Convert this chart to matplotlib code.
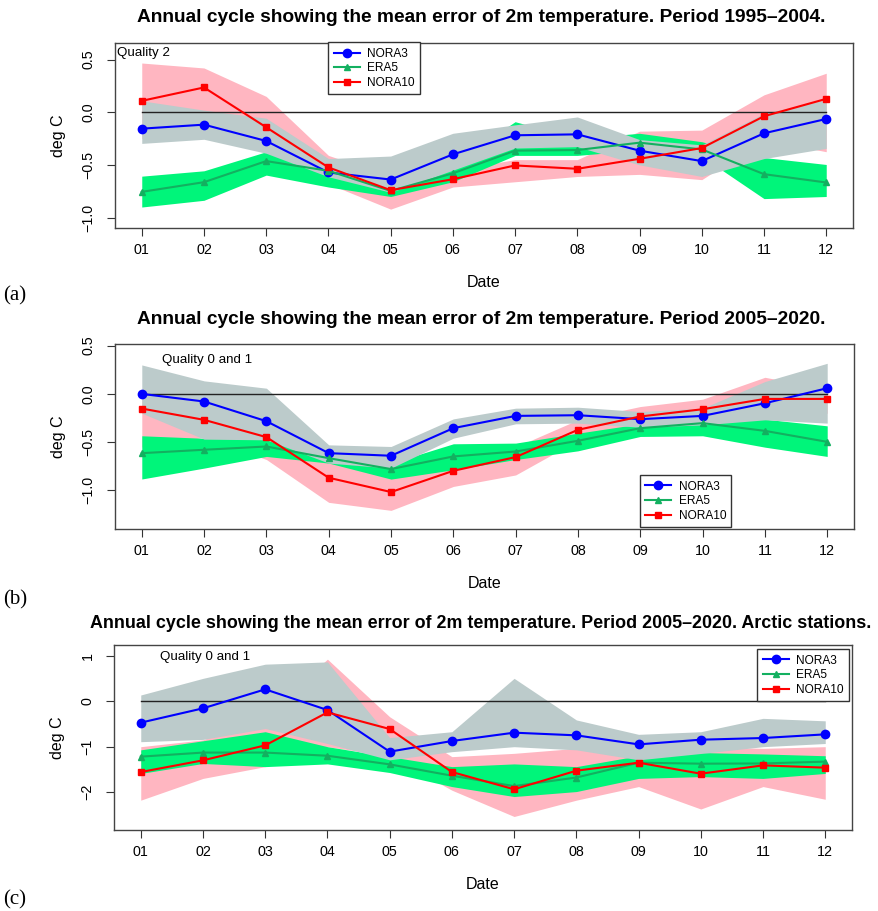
import matplotlib
matplotlib.use("Agg")
import matplotlib.pyplot as plt
import numpy as np

plt.rcParams['font.family'] = ['Liberation Sans', 'DejaVu Sans']

months = ["01", "02", "03", "04", "05", "06", "07", "08", "09", "10", "11", "12"]

# ---- panel (a): quality 2, 1995-2004
nora3_a = [-0.156, -0.118, -0.273, -0.572, -0.639, -0.40, -0.219, -0.21, -0.365, -0.464, -0.20, -0.064]
nora3_a_hi = [0.108, 0.02, -0.057, -0.44, -0.416, -0.2, -0.12, -0.045, -0.26, -0.31, -0.01, 0.118]
nora3_a_lo = [-0.296, -0.257, -0.39, -0.613, -0.76, -0.55, -0.34, -0.327, -0.50, -0.61, -0.44, -0.343]
era5_a = [-0.756, -0.664, -0.464, -0.556, -0.747, -0.58, -0.365, -0.359, -0.289, -0.353, -0.588, -0.667]
era5_a_hi = [-0.607, -0.556, -0.375, -0.55, -0.71, -0.486, -0.09, -0.25, -0.2, -0.28, -0.43, -0.496]
era5_a_lo = [-0.9, -0.836, -0.597, -0.71, -0.80, -0.66, -0.41, -0.41, -0.36, -0.42, -0.82, -0.80]
nora10_a = [0.108, 0.235, -0.143, -0.524, -0.740, -0.636, -0.505, -0.537, -0.442, -0.34, -0.038, 0.127]
nora10_a_hi = [0.467, 0.42, 0.15, -0.41, -0.61, -0.55, -0.45, -0.45, -0.18, -0.17, 0.165, 0.37]
nora10_a_lo = [-0.25, 0.0, -0.35, -0.68, -0.92, -0.71, -0.66, -0.61, -0.59, -0.64, -0.26, -0.375]

# ---- panel (b): quality 0 and 1, 2005-2020
nora3_b = [0.0, -0.079, -0.283, -0.614, -0.641, -0.355, -0.228, -0.221, -0.262, -0.228, -0.097, 0.059]
nora3_b_hi = [0.3, 0.135, 0.059, -0.528, -0.545, -0.259, -0.148, -0.138, -0.183, -0.148, 0.128, 0.317]
nora3_b_lo = [-0.2, -0.469, -0.476, -0.717, -0.769, -0.459, -0.31, -0.303, -0.345, -0.321, -0.269, -0.303]
era5_b = [-0.614, -0.579, -0.545, -0.666, -0.779, -0.648, -0.597, -0.486, -0.355, -0.303, -0.383, -0.497]
era5_b_hi = [-0.434, -0.46, -0.47, -0.607, -0.717, -0.517, -0.51, -0.407, -0.31, -0.269, -0.262, -0.331]
era5_b_lo = [-0.882, -0.769, -0.648, -0.717, -0.883, -0.786, -0.68, -0.59, -0.441, -0.434, -0.552, -0.648]
nora10_b = [-0.152, -0.269, -0.448, -0.869, -1.017, -0.797, -0.655, -0.372, -0.234, -0.159, -0.052, -0.052]
nora10_b_hi = [-0.05, -0.15, -0.3, -0.7, -0.85, -0.7, -0.55, -0.269, -0.131, -0.055, 0.172, 0.05]
nora10_b_lo = [-0.55, -0.45, -0.68, -1.124, -1.207, -0.959, -0.84, -0.48, -0.35, -0.3, -0.25, -0.2]

# ---- panel (c): quality 0 and 1, 2005-2020, arctic stations
nora3_c = [-0.47, -0.154, 0.265, -0.191, -1.11, -0.875, -0.691, -0.75, -0.949, -0.846, -0.809, -0.728]
nora3_c_hi = [0.14, 0.507, 0.82, 0.87, -0.80, -0.67, 0.507, -0.41, -0.728, -0.67, -0.375, -0.43]
nora3_c_lo = [-0.89, -0.84, -0.6, -0.93, -1.29, -1.11, -1.0, -1.07, -1.29, -1.15, -1.0, -0.93]
era5_c = [-1.22, -1.13, -1.13, -1.2, -1.39, -1.64, -1.87, -1.68, -1.353, -1.375, -1.37, -1.33]
era5_c_hi = [-1.07, -0.87, -0.67, -1.0, -1.22, -1.44, -1.38, -1.44, -1.2, -1.13, -1.16, -1.2]
era5_c_lo = [-1.59, -1.37, -1.44, -1.38, -1.57, -1.88, -2.10, -1.99, -1.7, -1.66, -1.7, -1.59]
nora10_c = [-1.559, -1.301, -0.971, -0.243, -0.61, -1.559, -1.94, -1.53, -1.353, -1.596, -1.412, -1.463]
nora10_c_hi = [-1.0, -0.85, -0.28, 0.93, -0.34, -1.22, -1.147, -1.037, -1.147, -1.0, -1.037, -1.0]
nora10_c_lo = [-2.18, -1.7, -1.44, -1.0, -1.2, -1.96, -2.54, -2.18, -1.88, -2.375, -1.88, -2.16]

titles = ["Annual cycle showing the mean error of 2m temperature. Period 1995\u20132004.",
          "Annual cycle showing the mean error of 2m temperature. Period 2005\u20132020.",
          "Annual cycle showing the mean error of 2m temperature. Period 2005\u20132020. Arctic stations."]
quality = ["Quality 2", "Quality 0 and 1", "Quality 0 and 1"]
letters = ["(a)", "(b)", "(c)"]

W, H = 879, 911
fig = plt.figure(figsize=(W / 100, H / 100), dpi=100)

# pixel boxes (left, top, right, bottom)
boxes = [(115, 43, 853, 228), (115, 344, 854, 529), (114, 645, 852, 830)]
ylims = [(-1.099, 0.657), (-1.40, 0.517), (-2.838, 1.243)]
yticks = [[-1.0, -0.5, 0.0, 0.5], [-1.0, -0.5, 0.0, 0.5], [-2, -1, 0, 1]]
ytlabels = [["\u22121.0", "\u22120.5", "0.0", "0.5"], ["\u22121.0", "\u22120.5", "0.0", "0.5"],
            ["\u22122", "\u22121", "0", "1"]]
title_y = [18, 319, 623]
title_fs = [13.8, 13.8, 12.9]
letter_y = [296, 600, 900]
leg_loc = [("upper left", (0.289, 1.003)), ("lower left", (0.71, 0.01)), ("upper right", (0.996, 0.977))]
qual_x = [117, 162, 160]
qual_y = [53, 360, 657]

data = [
    (nora3_a, nora3_a_hi, nora3_a_lo, era5_a, era5_a_hi, era5_a_lo, nora10_a, nora10_a_hi, nora10_a_lo),
    (nora3_b, nora3_b_hi, nora3_b_lo, era5_b, era5_b_hi, era5_b_lo, nora10_b, nora10_b_hi, nora10_b_lo),
    (nora3_c, nora3_c_hi, nora3_c_lo, era5_c, era5_c_hi, era5_c_lo, nora10_c, nora10_c_hi, nora10_c_lo),
]

x = np.arange(1, 13)

for i in range(3):
    l, t, r, b = boxes[i]
    ax = fig.add_axes([l / W, 1 - b / H, (r - l) / W, (b - t) / H])
    n3, n3h, n3l, e5, e5h, e5l, n10, n10h, n10l = data[i]

    # bands: NORA10 below, then ERA5, then NORA3 on top
    ax.fill_between(x, n10l, n10h, color="#FFB6C1", lw=0, zorder=1)
    ax.fill_between(x, e5l, e5h, color="#00F57A", lw=0, zorder=2)
    ax.fill_between(x, n3l, n3h, color="#BCCBCB", lw=0, zorder=3)
    ax.plot([1, 12], [0, 0], color="#222222", lw=1.0, zorder=4)

    ax.plot(x, n3, color="blue", marker="o", ms=6, lw=1.5, label="NORA3", zorder=5)
    ax.plot(x, e5, color="#13B060", marker="^", ms=5, lw=1.5, label="ERA5", zorder=5)
    ax.plot(x, n10, color="red", marker="s", ms=4.5, lw=1.5, label="NORA10", zorder=6)

    ax.set_xlim(0.57, 12.43)
    ax.set_ylim(*ylims[i])
    ax.set_xticks(x)
    ax.set_xticklabels(months)
    ax.set_yticks(yticks[i])
    ax.set_yticklabels(ytlabels[i], rotation=90, va="center")
    ax.tick_params(direction="out", length=6, width=0.8, labelsize=10.3, color="#333333")
    ax.tick_params(axis="x", pad=5)
    ax.tick_params(axis="y", pad=8)
    for s in ax.spines.values():
        s.set_color("#444444")
        s.set_linewidth(1.0)

    ax.set_xlabel("Date", fontsize=11.5, labelpad=13)
    ax.set_ylabel("deg C", fontsize=11.5, labelpad=11)

    ax.text((qual_x[i] - l) / (r - l), 1 - (qual_y[i] - t) / (b - t), quality[i],
            transform=ax.transAxes, fontsize=9.6, ha="left", va="center", zorder=7)

    loc, anchor = leg_loc[i]
    leg = ax.legend(loc=loc, bbox_to_anchor=anchor, fontsize=8.6, fancybox=False,
                    framealpha=1, edgecolor="#333333", handlelength=2.2,
                    borderpad=0.45, labelspacing=0.22, handletextpad=0.6, borderaxespad=0)
    leg.get_frame().set_linewidth(1.0)
    leg.set_zorder(8)

    fig.text(481 / W, 1 - title_y[i] / H, titles[i], ha="center", va="center",
             fontsize=title_fs[i], fontweight="bold")
    fig.text(15 / W, 1 - letter_y[i] / H, letters[i], ha="center", va="center",
             fontsize=15, family="Liberation Serif")

fig.savefig("out.png", dpi=100)
